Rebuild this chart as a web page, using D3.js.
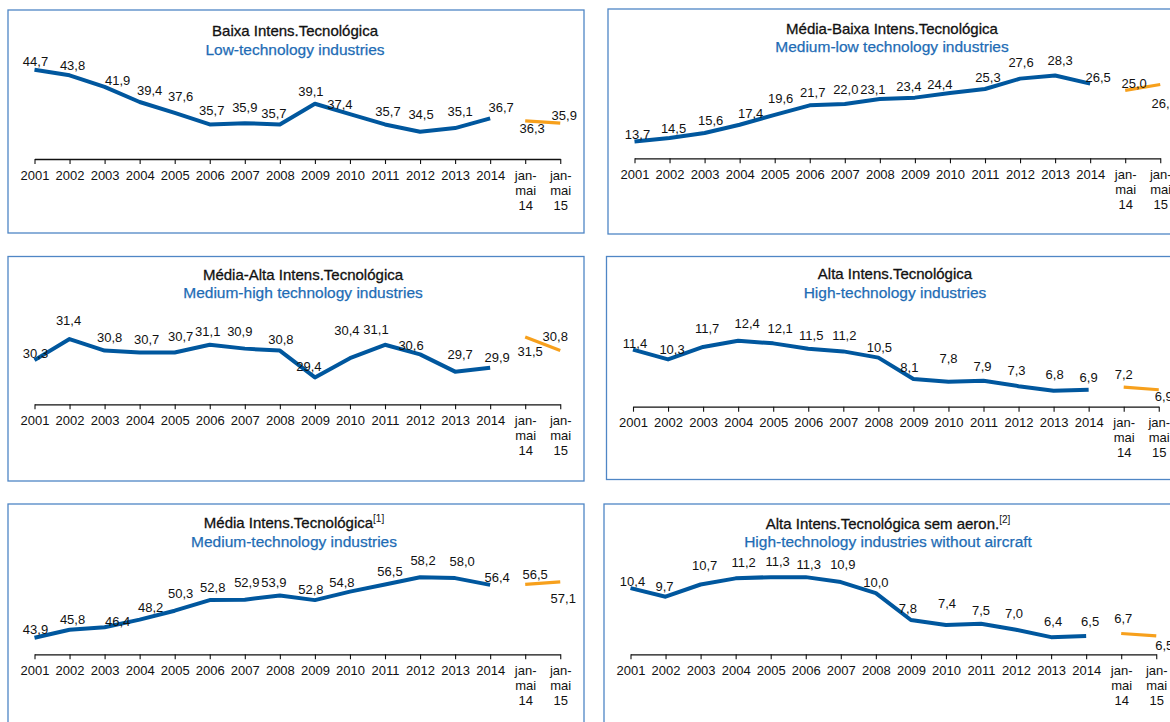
<!DOCTYPE html>
<html>
<head>
<meta charset="utf-8">
<script src="https://cdn.jsdelivr.net/npm/d3@7"></script>
<style>
  body { margin: 0; background: #fff; }
  svg { display: block; font-family: "Liberation Sans", Arial, sans-serif; }
</style>
</head>
<body>
<div id="viz"></div>
<script>
// categories (x axis), "|" marks a line break in the tick label
const categories = ["2001","2002","2003","2004","2005","2006","2007","2008","2009","2010",
                    "2011","2012","2013","2014","jan-|mai|14","jan-|mai|15"]

// series: yearly values + jan-mai values
const lowAnnual = [44.7,43.8,41.9,39.4,37.6,35.7,35.9,35.7,39.1,37.4,35.7,34.5,35.1,36.7]
const lowPeriod = [36.3,35.9]
const medLowAnnual = [13.7,14.5,15.6,17.4,19.6,21.7,22.0,23.1,23.4,24.4,25.3,27.6,28.3,26.5]
const medLowPeriod = [25.0,26.3]
const medHighAnnual = [30.3,31.4,30.8,30.7,30.7,31.1,30.9,30.8,29.4,30.4,31.1,30.6,29.7,29.9]
const medHighPeriod = [31.5,30.8]
const highAnnual = [11.4,10.3,11.7,12.4,12.1,11.5,11.2,10.5,8.1,7.8,7.9,7.3,6.8,6.9]
const highPeriod = [7.2,6.9]
const medAnnual = [43.9,45.8,46.4,48.2,50.3,52.8,52.9,53.9,52.8,54.8,56.5,58.2,58.0,56.4]
const medPeriod = [56.5,57.1]
const highNoAirAnnual = [10.4,9.7,10.7,11.2,11.3,11.3,10.9,10.0,7.8,7.4,7.5,7.0,6.4,6.5]
const highNoAirPeriod = [6.7,6.5]

// titles
const titlesPt = ["Baixa Intens.Tecnológica","Média-Baixa Intens.Tecnológica","Média-Alta Intens.Tecnológica",
                  "Alta Intens.Tecnológica","Média Intens.Tecnológica","Alta Intens.Tecnológica sem aeron."]
const titleNotes = ["","","","","[1]","[2]"]
const titlesEn = ["Low-technology industries","Medium-low technology industries","Medium-high technology industries",
                  "High-technology industries","Medium-technology industries","High-technology industries without aircraft"]

// label nudges [dx, dy] relative to the point (like the manual excel label placement)
const nudges = [
  [[1,-8],[3,-10],[13,-6],[10,-12],[6,-16],[2,-14],[0,-16],[-6,-11],[-4,-12],[-10,-10],[3,-13],[1,-17],[5,-17],[11,-11],[7,8],[4,-8]],
  [[3,-7],[4,-9],[6,-12],[11,-11],[6,-16],[3,-13],[1,-15],[-7,-10],[-6,-11],[-10,-9],[3,-12],[1,-16],[5,-15],[8,-6],[9,-7],[4,19]],
  [[1,-7],[-1,-19],[5,-13],[7,-13],[6,-16],[-2,-13],[-5,-17],[1,-11],[-6,-11],[-3,-28],[-9,-15],[-9,-9],[5,-17],[7,-10],[5,14],[-5,-14]],
  [[2,-6],[4,-10],[4,-18],[9,-17],[7,-15],[3,-13],[1,-16],[1,-10],[-4,-12],[0,-23],[-1,-14],[-2,-16],[1,-16],[0,-12],[0,-13],[5,7]],
  [[1,-8],[3,-10],[13,-6],[11,-12],[6,-17],[3,-13],[2,-17],[-6,-13],[-4,-11],[-8,-9],[5,-13],[3,-17],[7,-17],[7,-7],[10,-10],[3,17]],
  [[2,-7],[-1,-10],[4,-19],[8,-16],[7,-16],[3,-13],[2,-18],[0,-11],[-3,-12],[1,-21],[0,-13],[-2,-16],[2,-16],[4,-14],[2,-15],[8,10]]
]

const series = [
  {annual: lowAnnual, period: lowPeriod, dom: [30,45]},
  {annual: medLowAnnual, period: medLowPeriod, dom: [10,30.1]},
  {annual: medHighAnnual, period: medHighPeriod, dom: [28,32.74]},
  {annual: highAnnual, period: highPeriod, dom: [5,15.2]},
  {annual: medAnnual, period: medPeriod, dom: [40,61.5]},
  {annual: highNoAirAnnual, period: highNoAirPeriod, dom: [5,12.43]}
]

// layout of the 6 boxes
let layout = [
  {x:8,     y:10,    h:223,   axis:149,   tx:295, t1:21,   t2:40},
  {x:608,   y:9,     h:225,   axis:149.3, tx:892, t1:19.3, t2:37.7},
  {x:8,     y:256.5, h:224.5, axis:147.8, tx:303, t1:18.5, t2:36},
  {x:606.5, y:256.5, h:223,   axis:150.2, tx:895, t1:16.8, t2:35.8},
  {x:8,     y:504,   h:240,   axis:150.3, tx:294, t1:18.7, t2:37.7},
  {x:604,   y:504,   h:240,   axis:150.3, tx:888, t1:19.3, t2:37.7}
]

const boxW = 576
const step = 35.05
const plotH = 91

const blue = "#00579e"
const orange = "#f7a01c"

const fmt = d3.formatLocale({decimal: ",", thousands: ".", grouping: [3], currency: ["", "€"]}).format(".1f")

let svg = d3.select("#viz")
  .append("svg")
    .attr("width", 1170)
    .attr("height", 722)

layout.forEach((p, k) => {
    let s = series[k]
    let g = svg.append("g")

    g.append("rect")
        .attr("x", p.x)
        .attr("y", p.y)
        .attr("width", boxW)
        .attr("height", p.h)
        .attr("fill", "none")
        .attr("stroke", "#4f86c5")
        .attr("stroke-width", 1.3)

    // titles
    let t = g.append("text")
        .attr("x", p.tx)
        .attr("y", p.y + p.t1)
        .attr("dy", "0.35em")
        .attr("text-anchor", "middle")
        .attr("font-size", 15)
        .attr("fill", "#111")
        .attr("stroke", "#111")
        .attr("stroke-width", 0.3)
        .text(titlesPt[k])
    if (titleNotes[k]) {
        t.append("tspan")
            .attr("font-size", 10)
            .attr("dy", "-0.6em")
            .attr("stroke-width", 0)
            .text(titleNotes[k])
    }
    g.append("text")
        .attr("x", p.tx)
        .attr("y", p.y + p.t2)
        .attr("dy", "0.35em")
        .attr("text-anchor", "middle")
        .attr("font-size", 15.5)
        .attr("fill", "#1e6cb5")
        .attr("stroke", "#1e6cb5")
        .attr("stroke-width", 0.25)
        .text(titlesEn[k])

    // scales
    let x0 = p.x + 26.5
    let xScale = d3.scalePoint()
        .domain(categories)
        .range([x0, x0 + step * (categories.length - 1)])

    let axisY = p.y + p.axis
    let yScale = d3.scaleLinear()
        .domain(s.dom)
        .range([axisY, axisY - plotH])

    // x axis
    let xAxis = d3.axisBottom(xScale)
        .tickSize(5)
        .tickSizeOuter(0)
        .tickFormat("")

    let ag = g.append("g")
        .attr("transform", `translate(0,${axisY})`)
        .call(xAxis)
    ag.select(".domain").attr("stroke", "#111").attr("stroke-width", 1.3)
    ag.selectAll(".tick line").attr("stroke", "#111").attr("stroke-width", 1.1)

    ag.selectAll(".tick").each(function(d) {
        let lines = d.split("|")
        let txt = d3.select(this).append("text")
            .attr("fill", "#111")
            .attr("font-size", 13)
            .attr("text-anchor", "middle")
            .attr("y", 20.5)
        lines.forEach((l, i) => {
            txt.append("tspan")
                .attr("x", 0)
                .attr("dy", i == 0 ? 0 : 15)
                .text(l)
        })
    })

    let line = d3.line()
        .x(d => xScale(categories[d.i]))
        .y(d => yScale(d.v))

    let annual = s.annual.map((v, i) => ({v: v, i: i}))
    let period = s.period.map((v, i) => ({v: v, i: i + s.annual.length}))

    g.append("path")
        .datum(annual)
        .attr("d", line)
        .attr("fill", "none")
        .attr("stroke", blue)
        .attr("stroke-width", 4)
        .attr("stroke-linejoin", "round")

    g.append("path")
        .datum(period)
        .attr("d", line)
        .attr("fill", "none")
        .attr("stroke", orange)
        .attr("stroke-width", 3.2)

    // data labels
    g.selectAll("text.lbl")
        .data(annual.concat(period))
        .join("text")
            .attr("class", "lbl")
            .attr("x", d => xScale(categories[d.i]) + nudges[k][d.i][0])
            .attr("y", d => yScale(d.v) + nudges[k][d.i][1])
            .attr("dy", "0.35em")
            .attr("text-anchor", "middle")
            .attr("font-size", 13)
            .attr("fill", "#111")
            .text(d => fmt(d.v))
})
</script>
</body>
</html>
